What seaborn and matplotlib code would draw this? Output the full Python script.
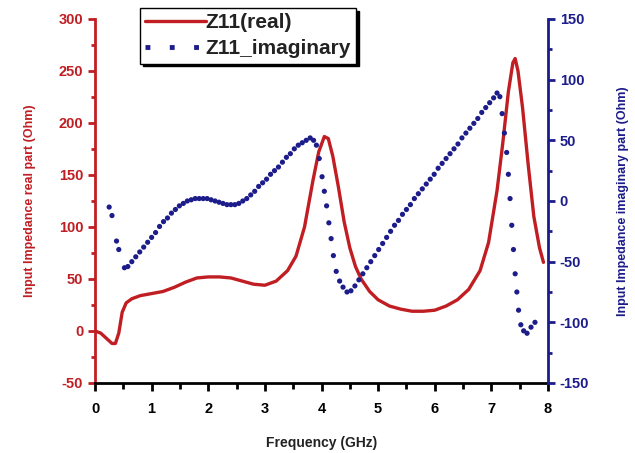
import numpy as np
import pandas as pd
import seaborn as sns
import matplotlib
matplotlib.use("Agg")
import matplotlib.pyplot as plt
from matplotlib.lines import Line2D
from matplotlib.ticker import MultipleLocator

# real part of Z11 (Ohm)
freq_real = [0.0, 0.1, 0.2, 0.3, 0.36, 0.42, 0.48, 0.55, 0.65, 0.8, 1.0, 1.2, 1.4, 1.6,
             1.8, 2.0, 2.2, 2.4, 2.6, 2.8, 3.0, 3.2, 3.4, 3.55, 3.7, 3.85, 3.95, 4.05,
             4.12, 4.2, 4.3, 4.4, 4.5, 4.6, 4.7, 4.85, 5.0, 5.2, 5.4, 5.6, 5.8, 6.0,
             6.2, 6.4, 6.6, 6.8, 6.95, 7.1, 7.2, 7.3, 7.38, 7.42, 7.47, 7.55, 7.65,
             7.75, 7.85, 7.92]
z_real = [0, -2, -7, -12, -12, -2, 18, 27, 31, 34, 36, 38, 42, 47,
          51, 52, 52, 51, 48, 45, 44, 48, 58, 72, 100, 145, 172, 187,
          185, 168, 138, 105, 80, 62, 50, 38, 30, 24, 21, 19, 19, 20,
          24, 30, 40, 58, 85, 135, 180, 230, 258, 262, 250, 215, 160,
          110, 80, 66]

# imaginary part of Z11 (Ohm), one value per dot
freq_imag = [0.25, 0.30, 0.38, 0.42, 0.52, 0.58, 0.65, 0.72, 0.79, 0.86, 0.93, 1.00,
             1.07, 1.14, 1.21, 1.28, 1.35, 1.42, 1.49, 1.56, 1.63, 1.70, 1.77, 1.84,
             1.91, 1.98, 2.05, 2.12, 2.19, 2.26, 2.33, 2.40, 2.47, 2.54, 2.61, 2.68,
             2.75, 2.82, 2.89, 2.96, 3.03, 3.10, 3.17, 3.24, 3.31, 3.38, 3.45, 3.52,
             3.59, 3.66, 3.73, 3.80, 3.86, 3.91, 3.96, 4.01, 4.05, 4.09, 4.13, 4.17,
             4.21, 4.26, 4.32, 4.38, 4.45, 4.52, 4.59, 4.66, 4.73, 4.80, 4.87, 4.94,
             5.01, 5.08, 5.15, 5.22, 5.29, 5.36, 5.43, 5.50, 5.57, 5.64, 5.71, 5.78,
             5.85, 5.92, 5.99, 6.06, 6.13, 6.20, 6.27, 6.34, 6.41, 6.48, 6.55, 6.62,
             6.69, 6.76, 6.83, 6.90, 6.97, 7.04, 7.10, 7.15, 7.19, 7.23, 7.27, 7.30,
             7.33, 7.36, 7.39, 7.42, 7.45, 7.48, 7.52, 7.57, 7.63, 7.70, 7.77]
z_imag = [-5, -12, -33, -40, -55, -54, -50, -46, -42, -38, -34, -30,
          -26, -21, -17, -14, -10, -7, -4, -2, 0, 1, 2, 2,
          2, 2, 1, 0, -1, -2, -3, -3, -3, -2, 0, 2,
          5, 8, 12, 15, 18, 22, 25, 28, 32, 36, 39, 43,
          46, 48, 50, 52, 50, 46, 35, 20, 8, -4, -18, -31,
          -45, -58, -66, -71, -75, -74, -70, -65, -60, -55, -50, -45,
          -40, -35, -30, -25, -20, -16, -11, -7, -3, 2, 6, 10,
          14, 18, 22, 27, 31, 35, 39, 43, 47, 52, 56, 60,
          64, 68, 73, 77, 81, 85, 89, 86, 72, 56, 40, 22,
          2, -20, -40, -60, -75, -90, -102, -107, -109, -104, -100]

red = "#c01e23"
blue = "#1c1c8a"

sns.set_style("ticks")
plt.rcParams["font.family"] = ["Liberation Sans", "DejaVu Sans"]
plt.rcParams["font.weight"] = "bold"
plt.rcParams["axes.unicode_minus"] = False

df_real = pd.DataFrame({"f": freq_real, "z": z_real})
df_imag = pd.DataFrame({"f": freq_imag, "z": z_imag})

fig = plt.figure(figsize=(6.35, 4.53), dpi=100)
ax = fig.add_axes([95 / 635, 70 / 453, 453 / 635, 364 / 453])
ax2 = ax.twinx()

sns.lineplot(data=df_real, x="f", y="z", ax=ax, color=red, linewidth=2.4)
sns.scatterplot(data=df_imag, x="f", y="z", ax=ax2, color=blue, s=14,
                edgecolor="none")

ax.set_xlim(0, 8)
ax.set_ylim(-50, 300)
ax2.set_ylim(-150, 150)

ax.xaxis.set_major_locator(MultipleLocator(1))
ax.xaxis.set_minor_locator(MultipleLocator(0.5))
ax.yaxis.set_major_locator(MultipleLocator(50))
ax.yaxis.set_minor_locator(MultipleLocator(25))
ax2.yaxis.set_major_locator(MultipleLocator(50))
ax2.yaxis.set_minor_locator(MultipleLocator(25))

for a in (ax, ax2):
    a.spines["top"].set_visible(False)
ax.spines["right"].set_visible(False)
ax.spines["left"].set_color(red)
ax.spines["left"].set_linewidth(2)
ax.spines["bottom"].set_color("black")
ax.spines["bottom"].set_linewidth(2)
ax2.spines["left"].set_visible(False)
ax2.spines["bottom"].set_visible(False)
ax2.spines["right"].set_color(blue)
ax2.spines["right"].set_linewidth(2)

ax.tick_params(axis="x", which="both", direction="out", colors="black", width=2,
               labelsize=10.5, pad=8)
ax.tick_params(axis="x", which="major", length=6)
ax.tick_params(axis="x", which="minor", length=4)
ax.tick_params(axis="y", which="both", colors=red, width=2, labelsize=10.5)
ax.tick_params(axis="y", which="major", length=5)
ax.tick_params(axis="y", which="minor", length=3)
ax2.tick_params(axis="y", which="both", colors=blue, width=2, labelsize=10.5)
ax2.tick_params(axis="y", which="major", length=5)
ax2.tick_params(axis="y", which="minor", length=3)

ax.set_xlabel("Frequency (GHz)", fontsize=10, fontweight="bold", color="#222222",
              labelpad=14)
ax.set_ylabel("Input Impedance real part (Ohm)", fontsize=9, fontweight="bold",
              color=red, labelpad=16)
ax2.set_ylabel("Input Impedance imaginary part (Ohm)", fontsize=9, fontweight="bold",
               color=blue, labelpad=20)

handles = [Line2D([], [], color=red, linewidth=2.4),
           Line2D([], [], color=blue, linewidth=3.5, linestyle=(0, (1, 4)))]
leg = ax.legend(handles, ["Z11(real)", "Z11_imaginary"], loc="upper left",
                bbox_to_anchor=(140 / 635, 1 - 8 / 453),
                bbox_transform=fig.transFigure, frameon=True, fancybox=False,
                shadow={"color": "black", "alpha": 1}, fontsize=15,
                handlelength=2.9, handletextpad=0.0, borderpad=0.25,
                labelspacing=0.35, borderaxespad=0)
leg.get_frame().set_edgecolor("black")
leg.get_frame().set_linewidth(1)
for t in leg.get_texts():
    t.set_color("#222222")

fig.savefig("out.png", dpi=100)
